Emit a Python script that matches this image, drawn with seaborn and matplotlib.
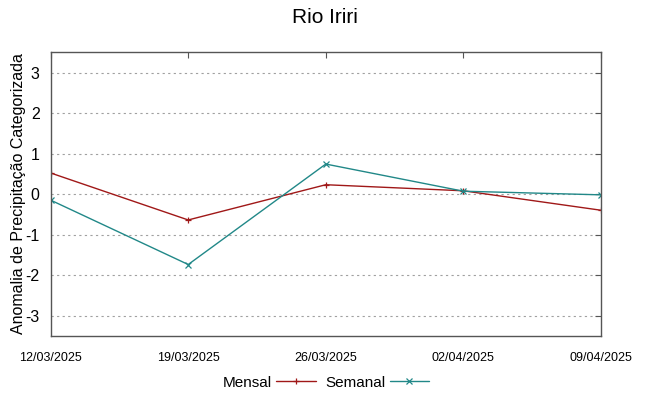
import pandas as pd
import matplotlib.pyplot as plt
import matplotlib.dates as mdates
import seaborn as sns

# Dados
datas = ["12/03/2025", "19/03/2025", "26/03/2025", "02/04/2025", "09/04/2025"]
mensal = [0.52, -0.64, 0.23, 0.08, -0.40]
semanal = [-0.15, -1.74, 0.74, 0.07, -0.02]

df = pd.DataFrame({
    "Data": pd.to_datetime(datas * 2, format="%d/%m/%Y"),
    "Anomalia": mensal + semanal,
    "Serie": ["Mensal"] * len(datas) + ["Semanal"] * len(datas),
})

sns.set_style("white")
plt.rcParams["font.family"] = ["Liberation Sans", "DejaVu Sans"]
plt.rcParams["axes.unicode_minus"] = False
plt.rcParams["text.color"] = "black"
plt.rcParams["axes.labelcolor"] = "black"
plt.rcParams["xtick.labelcolor"] = "black"
plt.rcParams["ytick.labelcolor"] = "black"

fig, ax = plt.subplots(figsize=(6.49, 3.96), dpi=100)
fig.subplots_adjust(left=0.078, right=0.926, top=0.868, bottom=0.152)

cores = {"Mensal": "#a01818", "Semanal": "#218888"}
sns.lineplot(data=df, x="Data", y="Anomalia", hue="Serie", style="Serie",
             markers={"Mensal": "+", "Semanal": "x"}, dashes=False,
             palette=cores, linewidth=1.0, markersize=5, ax=ax)

# marcadores com a cor da linha (seaborn usa borda branca)
for ln in ax.lines:
    ln.set_markeredgecolor(ln.get_color())
    ln.set_markeredgewidth(0.9)

ax.set_xlim(df["Data"].min(), df["Data"].max())
ax.set_ylim(-3.5, 3.5)
ax.set_yticks([-3, -2, -1, 0, 1, 2, 3])
ax.set_xticks(pd.to_datetime(datas, format="%d/%m/%Y"))
ax.xaxis.set_major_formatter(mdates.DateFormatter("%d/%m/%Y"))
ax.yaxis.grid(True, linestyle=(0, (2, 3)), color="#a0a0a0", linewidth=0.8)
ax.tick_params(axis="both", direction="in", length=4, color="#555555",
               top=True, right=True)
ax.tick_params(axis="y", labelsize=11.5, pad=8)
ax.tick_params(axis="x", pad=12)
for lbl in ax.get_xticklabels():
    lbl.set_family(["Liberation Sans Narrow", "Liberation Sans"])
    lbl.set_fontsize(9)
for s in ax.spines.values():
    s.set_color("#555555")
    s.set_linewidth(1.0)

ax.set_xlabel("")
ax.set_ylabel("Anomalia de Precipitação Categorizada", fontsize=11.5)
ax.yaxis.set_label_coords(-0.045, 0.5)
ax.set_title("")
fig.text(0.5, 0.955, "Rio Iriri", ha="center", va="center", fontsize=15)

leg = ax.legend(loc="center", bbox_to_anchor=(0.5, -0.165), ncol=2,
                frameon=False, markerfirst=False, fontsize=11,
                handlelength=2.6, columnspacing=0.6, handletextpad=0.3)
for h in leg.legend_handles:
    h.set_markeredgecolor(h.get_color())
    h.set_markersize(5)

plt.savefig("out.png", dpi=100)
